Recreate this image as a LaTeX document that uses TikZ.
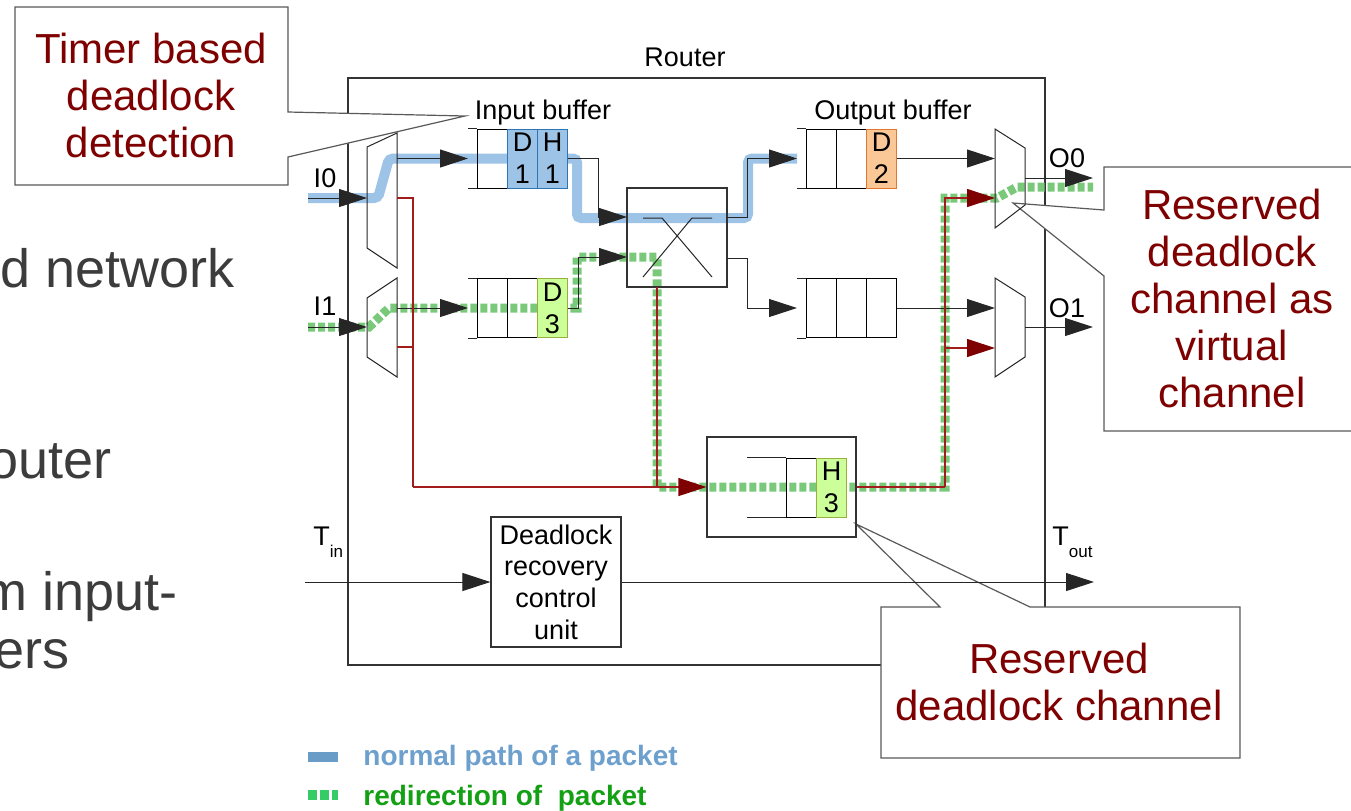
\documentclass[tikz,border=0pt]{standalone}
\usepackage{fontspec}
\setmainfont{Liberation Sans}
\usepackage{xcolor}
\usetikzlibrary{arrows.meta,positioning,calc,fit}
\definecolor{dkred}{HTML}{7F0000}
\definecolor{wirered}{HTML}{A31C1C}
\definecolor{pathblue}{HTML}{9DC3E6}
\definecolor{pathgreen}{HTML}{7AC97A}
\definecolor{pktblueb}{HTML}{2E75B6}
\definecolor{pktgreen}{HTML}{CCFF99}
\definecolor{pktgreenb}{HTML}{9AAE3C}
\definecolor{pktorange}{HTML}{FAC896}
\definecolor{pktorangeb}{HTML}{E0782F}
\definecolor{slidegrey}{HTML}{3C3C3C}
\definecolor{legblue}{HTML}{6A9CC8}
\definecolor{legbluetxt}{HTML}{6EA0CD}
\definecolor{leggreen}{HTML}{33CC66}
\definecolor{leggreentxt}{HTML}{14A014}
\tikzset{
  frame/.style={draw=black!80, line width=0.6pt, inner sep=0pt},
  wire/.style={draw=black!85, line width=0.5pt},
  flow/.style={wire, -{Triangle[length=14pt, width=9pt]}},
  rwire/.style={draw=wirered, line width=0.6pt},
  rflow/.style={rwire, -{Triangle[length=14pt, width=9pt, color=dkred]}},
  cell/.style={draw=black, line width=0.5pt, minimum width=15pt,
    minimum height=29.5pt, inner sep=0pt, anchor=west, align=center,
    font=\fontsize{13.5}{16}\selectfont},
  blupkt/.style={cell, anchor=center, fill=pathblue, draw=pktblueb},
  grnpkt/.style={cell, anchor=center, fill=pktgreen, draw=pktgreenb},
  orgpkt/.style={cell, anchor=center, fill=pktorange, draw=pktorangeb},
  muxshape/.style={draw=black!85, line width=0.5pt},
  ctrlbox/.style={frame, minimum width=65pt, minimum height=65pt,
    align=center, font=\lblfont},
  lbl/.style={inner sep=0pt, align=center, font=\lblfont},
  note/.style={draw=black!65, fill=white, line width=0.6pt},
  notetxt/.style={inner sep=0pt, align=center, text=dkred,
    font=\fontsize{21}{23.5}\selectfont},
  slidetxt/.style={anchor=base west, inner sep=0pt, text=slidegrey,
    font=\fontsize{27}{32}\selectfont},
  legtxt/.style={anchor=base west, inner sep=0pt,
    font=\fontsize{14}{16}\selectfont\bfseries},
  normpath/.style={pathblue, line width=5pt, rounded corners=2pt},
  redir/.style={pathgreen, line width=4.5pt, dash pattern=on 3.5pt off 1.5pt}
}
\newcommand{\lblfont}{\fontsize{13.5}{15.8}\selectfont}
\newcommand{\subtxt}[1]{\raisebox{-6pt}{\fontsize{8.5}{9}\selectfont #1}}

\begin{document}
\begin{tikzpicture}[x=0.5pt, y=-0.5pt]
  \useasboundingbox (0,0) rectangle (1351,810);
  \begin{scope}
  \clip (0,0) rectangle (1351,810);

  % slide text cut at the left border
  \node[slidetxt] (s1) at (0,287) {d network};
  \node[slidetxt] (s2) at (-12,478) {outer};
  \node[slidetxt] (s3) at (-18,610) {m input-};
  \node[slidetxt] (s4) at (-6,668) {ers};

  % router frame
  \node[frame, fit={(348,78) (1045,665)}] (router) {};
  \node[lbl] (routerlbl) at (685,57) {Router};

  % callouts
  \coordinate (tmrtip) at (465,116);
  \coordinate (vctip) at (1013,203);
  \coordinate (rctip) at (856,524);
  \filldraw[note] (15,7) -- (288,7) -- (288,112) -- (tmrtip) -- (288,157)
    -- (288,185) -- (15,185) -- cycle;
  \node[notetxt] (timer) at (151,95.5) {Timer based\\deadlock\\detection};
  \filldraw[note] (1104,167) -- (1358,167) -- (1358,431) -- (1104,431)
    -- (1104,276) -- (vctip) -- (1104,210) -- cycle;
  \node[notetxt] (vcnote) at (1232,298)
    {Reserved\\deadlock\\channel as\\virtual\\channel};
  \filldraw[note] (881,607) -- (940,607) -- (rctip) -- (1030,607)
    -- (1240,607) -- (1240,758) -- (881,758) -- cycle;
  \node[notetxt] (rcnote) at (1059,681.5) {Reserved\\deadlock channel};

  % legend
  \draw[legblue, line width=5pt] (308,757) -- (338,757);
  \draw[leggreen, line width=5pt, dash pattern=on 4.5pt off 1.5pt] (308,795) -- (338,795);
  \node[legtxt, text=legbluetxt] (lgnorm) at (363,765) {normal path of a packet};
  \node[legtxt, text=leggreentxt] (lgredir) at (363,805) {redirection of\ \ packet};

  % ports
  \coordinate (i0)   at (308,198);
  \coordinate (i1)   at (308,327);
  \coordinate (dm0i) at (367,198);
  \coordinate (dm1i) at (367,327);
  \coordinate (dm0o) at (397,158.5);
  \coordinate (dm1o) at (397,308);
  \coordinate (dm0r) at (397,198);
  \coordinate (dm1r) at (397,347);
  \coordinate (ib0i) at (468,158.5);
  \coordinate (ib1i) at (468,308);
  \coordinate (xi0)  at (627,217);
  \coordinate (xi1)  at (627,257);
  \coordinate (xo0)  at (727,217);
  \coordinate (xo1)  at (727,258);
  \coordinate (xdn)  at (657,287);
  \coordinate (ob0i) at (797,158.5);
  \coordinate (ob1i) at (797,308);
  \coordinate (om0i) at (995,158.5);
  \coordinate (om1i) at (995,308);
  \coordinate (om0r) at (995,198);
  \coordinate (om1r) at (995,348);
  \coordinate (om0o) at (1025,178);
  \coordinate (om1o) at (1025,327);
  \coordinate (o0)   at (1093,178);
  \coordinate (o1)   at (1093,327);
  \coordinate (rbus) at (413,487);
  \coordinate (rcol) at (945,487);
  \coordinate (tin)  at (305,582);
  \coordinate (tout) at (1094,582);

  % packet paths
  \draw[normpath] (i0) -- (378,198) -- (389,158.5) -- (577,158.5) -- (577,218)
    -- (748,218) -- (748,158.5) -- (ob0i);
  \draw[redir] (i1) -- (369,327) -- (389,308) -- (577,308) -- (577,257)
    -- (657,257) -- (657,487) -- (rcol) -- (945,198) -- (997,198)
    -- (1017,187) -- (1093,187);

  % (de)multiplexers
  \draw[muxshape] (367,147) -- (397,133) -- (397,268) -- (367,248) -- cycle;
  \draw[muxshape] (367,298) -- (397,278) -- (397,377) -- (367,357) -- cycle;
  \draw[muxshape] (995,129) -- (1025,148) -- (1025,205) -- (995,228) -- cycle;
  \draw[muxshape] (995,278) -- (1025,297) -- (1025,357) -- (995,377) -- cycle;

  % crossbar, reserved channel box, recovery unit
  \node[frame, fit={(627,188) (727,287)}] (xbar) {};
  \draw[wire] (643,218) -- (662,218) -- (712,277) (712,218) -- (692,218) -- (643,277);
  \node[frame, fit={(707,437) (856,537)}] (rbox) {};
  \node[ctrlbox] (dru) at (556,582) {Deadlock\\recovery\\control\\unit};

  % queues
  \foreach \nm/\x/\y/\n/\l in {ib0/477/158.5/3/9, ib1/477/308/3/9,
      ob0/806/158.5/3/9, ob1/806/308/3/9, rb/786/487.5/2/39}{
    \foreach \i in {1,...,\n}
      \node[cell] (\nm-\i) at (\x+30*\i-30,\y) {};
    \draw[wire] (\nm-1.north west) -- ++(-\l,0) (\nm-1.south west) -- ++(-\l,0);
  }
  \node[blupkt] (pd1) at (ib0-2) {D\\1};
  \node[blupkt] (ph1) at (ib0-3) {H\\1};
  \node[grnpkt] (pd3) at (ib1-3) {D\\3};
  \node[orgpkt] (pd2) at (ob0-3) {D\\2};
  \node[grnpkt] (ph3) at (rb-2) {H\\3};

  % data connections
  \draw[flow] (i0) -- (dm0i);
  \draw[flow] (i1) -- (dm1i);
  \draw[flow] (dm0o) -- (ib0i);
  \draw[flow] (dm1o) -- (ib1i);
  \draw[flow] (ph1.east) -- ++(30,0) |- (xi0);
  \draw[flow] (pd3.east) -- ++(10,0) |- (xi1);
  \draw[flow] (xo0) -- ++(20,0) |- (ob0i);
  \draw[flow] (xo1) -- ++(20,0) |- (ob1i);
  \draw[flow] (pd2.east) -- (om0i);
  \draw[flow] (ob1-3.east) -- (om1i);
  \draw[flow] (om0o) -- (o0);
  \draw[flow] (om1o) -- (o1);
  \draw[flow] (tin) -- (dru);
  \draw[flow] (dru) -- (tout);

  % reserved channel wiring
  \draw[rwire] (dm0r) -| (rbus);
  \draw[rwire] (dm1r) -- (dm1r -| rbus);
  \draw[rwire] (xdn) -- (xdn |- rbus);
  \draw[rflow] (rbus) -- (rbox);
  \draw[rwire] (rbox) -- (rcol);
  \draw[rflow] (rcol) |- (om0r);
  \draw[rflow] (rcol |- om1r) -- (om1r);

  % labels
  \node[lbl] (inbuf) at (543,113) {Input buffer};
  \node[lbl] (outbuf) at (893,112.5) {Output buffer};
  \node[lbl] (li0) at (325,178) {I0};
  \node[lbl] (li1) at (325,306) {I1};
  \node[lbl] (lo0) at (1067,158) {O0};
  \node[lbl] (lo1) at (1067,308) {O1};
  \node[lbl, anchor=base west] (ltin) at (313,545) {T\subtxt{in}};
  \node[lbl, anchor=base west] (ltout) at (1052,545) {T\subtxt{out}};
  \end{scope}
\end{tikzpicture}
\end{document}
